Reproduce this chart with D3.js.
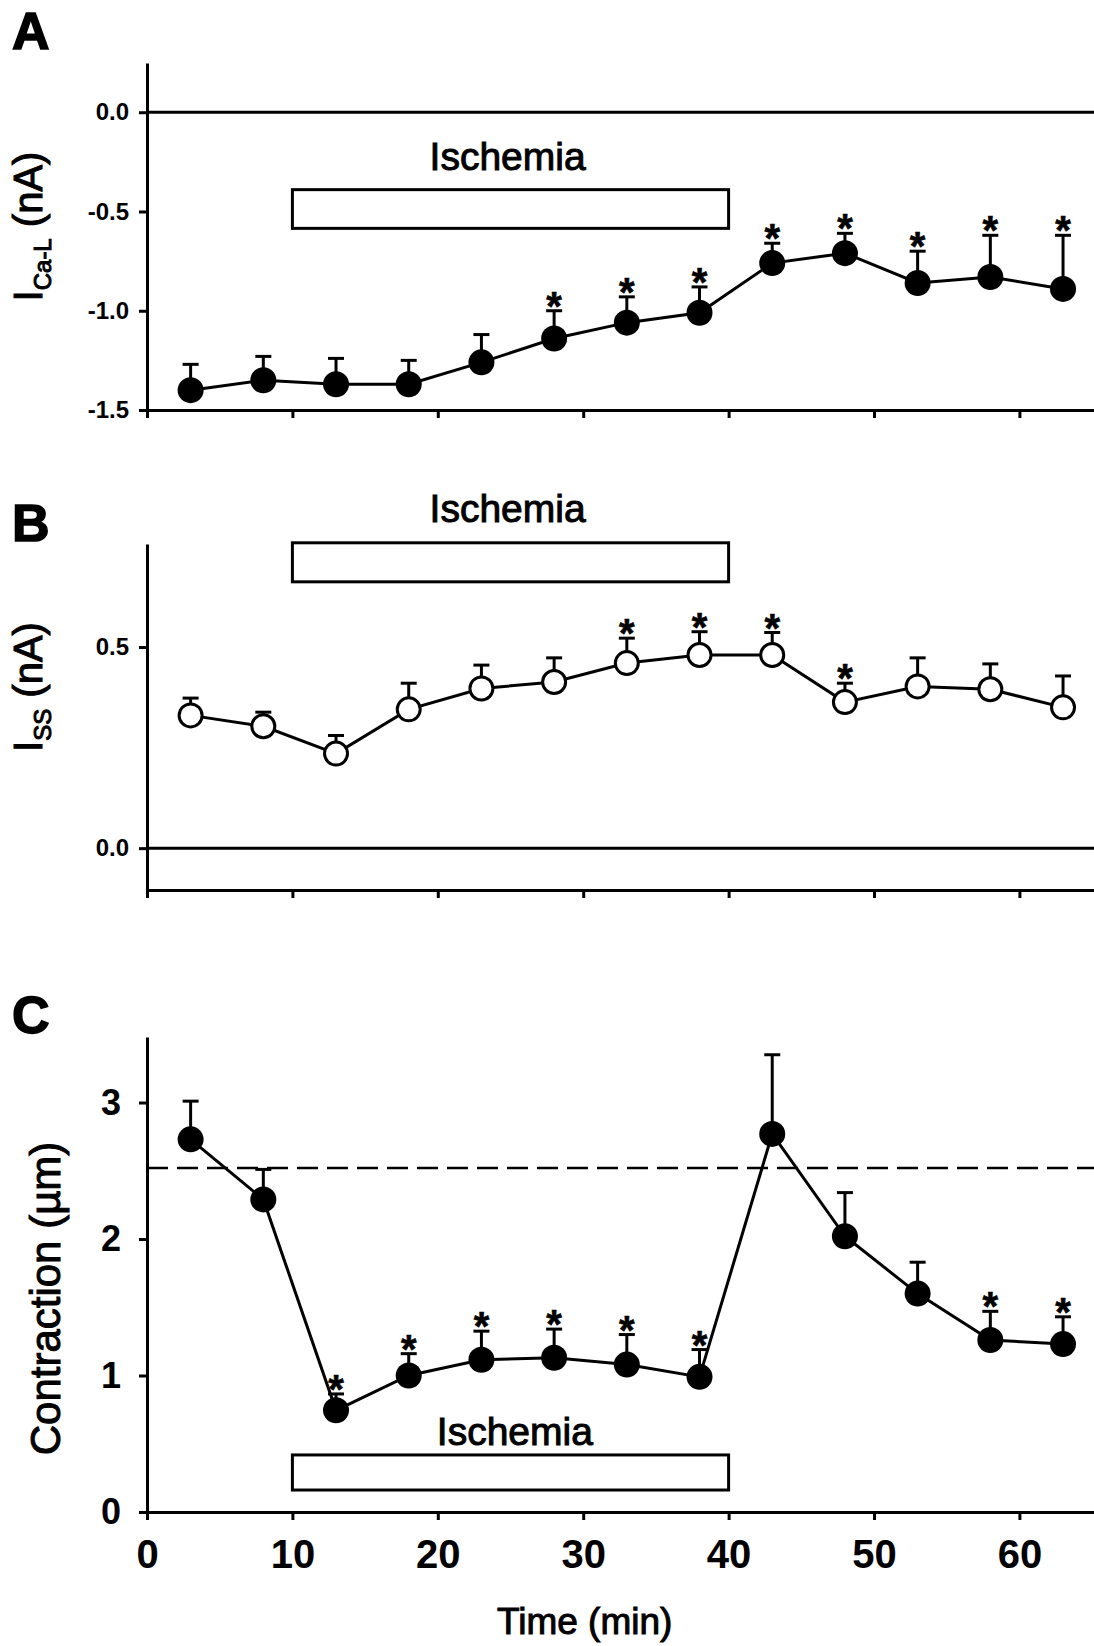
<!DOCTYPE html>
<html>
<head>
<meta charset="utf-8">
<script src="https://cdn.jsdelivr.net/npm/d3@7"></script>
<style>
body { margin: 0; background: #fff; }
svg { display: block; }
text { font-family: "Liberation Sans", Arial, sans-serif; fill: #000; }
.heavy { stroke: #000; stroke-width: 1; }
</style>
</head>
<body>
<svg width="1094" height="1646"></svg>
<script>
var times = [3, 8, 13, 18, 23, 28, 33, 38, 43, 48, 53, 58, 63];
var xTicks = [0, 10, 20, 30, 40, 50, 60];
var ischemia = [10, 40];

// A: I Ca-L
var icaMean = [-1.40, -1.35, -1.37, -1.37, -1.26, -1.14, -1.06, -1.01, -0.76, -0.71, -0.86, -0.83, -0.89];
var icaSem = [0.13, 0.12, 0.13, 0.12, 0.14, 0.14, 0.13, 0.13, 0.10, 0.10, 0.16, 0.21, 0.27];
var icaStar = [0, 0, 0, 0, 0, 1, 1, 1, 1, 1, 1, 1, 1];
var icaTicks = [-1.5, -1.0, -0.5, 0.0];

// B: I ss
var issMean = [0.33, 0.303, 0.235, 0.345, 0.397, 0.413, 0.46, 0.48, 0.48, 0.363, 0.402, 0.395, 0.35];
var issSem = [0.043, 0.035, 0.045, 0.065, 0.058, 0.06, 0.062, 0.058, 0.056, 0.047, 0.071, 0.063, 0.078];
var issStar = [0, 0, 0, 0, 0, 0, 1, 1, 1, 1, 0, 0, 0];
var issTicks = [0.0, 0.5];

// C: contraction
var conMean = [2.73, 2.29, 0.745, 1.00, 1.115, 1.13, 1.08, 0.99, 2.77, 2.02, 1.60, 1.26, 1.23];
var conSem = [0.28, 0.22, 0.12, 0.16, 0.21, 0.21, 0.22, 0.20, 0.58, 0.32, 0.23, 0.21, 0.20];
var conStar = [0, 0, 1, 1, 1, 1, 1, 1, 0, 0, 0, 1, 1];
var conTicks = [0, 1, 2, 3];
var conBaseline = 2.52;

var svg = d3.select("svg");
var W = 1094;
var x = d3.scaleLinear().domain([0, 65.13]).range([147, W]);

function drawPanel(p) {
  var y = d3.scaleLinear().domain(p.yDomain).range(p.yRange);
  var g = svg.append("g");

  // x axis
  var xAxis = d3.axisBottom(x).tickValues(xTicks).tickSize(8).tickSizeOuter(0).tickPadding(20);
  if (!p.xLabels) xAxis.tickFormat("");
  var gx = g.append("g")
    .attr("transform", "translate(0," + p.yRange[0] + ")")
    .call(xAxis);
  gx.selectAll("path, line").attr("stroke-width", 3);
  gx.selectAll("text").attr("font-size", 40).attr("font-weight", "bold");

  // y axis
  var yAxis = d3.axisLeft(y).tickValues(p.ticks).tickSize(8).tickSizeOuter(0)
    .tickPadding(p.tickPad).tickFormat(p.fmt);
  var gy = g.append("g")
    .attr("transform", "translate(" + x(0) + ",0)")
    .call(yAxis);
  gy.selectAll("path, line").attr("stroke-width", 3);
  gy.selectAll("text").attr("font-size", p.tickFont).attr("font-weight", "bold");

  // zero line or baseline
  if (p.zeroLine) {
    g.append("line")
      .attr("x1", x(0)).attr("x2", W)
      .attr("y1", y(0)).attr("y2", y(0))
      .attr("stroke", "#000").attr("stroke-width", 3);
  }
  if (p.dashed != null) {
    g.append("line")
      .attr("x1", x(0)).attr("x2", W)
      .attr("y1", y(p.dashed)).attr("y2", y(p.dashed))
      .attr("stroke", "#000").attr("stroke-width", 2.5)
      .attr("stroke-dasharray", "21,9");
  }

  // ischemia bar and label
  g.append("rect")
    .attr("x", x(ischemia[0])).attr("width", x(ischemia[1]) - x(ischemia[0]))
    .attr("y", y(p.box[0])).attr("height", y(p.box[1]) - y(p.box[0]))
    .attr("fill", "#fff").attr("stroke", "#000").attr("stroke-width", 3);
  g.append("text").attr("class", "heavy")
    .attr("x", x(p.labelX)).attr("y", y(p.labelY))
    .attr("text-anchor", "middle").attr("font-size", 39)
    .text("Ischemia");

  var data = times.map(function(t, i) {
    return {t: t, m: p.mean[i], s: p.sem[i], star: p.star[i]};
  });

  // error bars (upward only)
  var eb = g.append("g").attr("stroke", "#000").attr("stroke-width", 3);
  eb.selectAll(".v").data(data).enter().append("line")
    .attr("x1", function(d) { return x(d.t); })
    .attr("x2", function(d) { return x(d.t); })
    .attr("y1", function(d) { return y(d.m); })
    .attr("y2", function(d) { return y(d.m + d.s); });
  eb.selectAll(".c").data(data).enter().append("line")
    .attr("x1", function(d) { return x(d.t) - 8; })
    .attr("x2", function(d) { return x(d.t) + 8; })
    .attr("y1", function(d) { return y(d.m + d.s); })
    .attr("y2", function(d) { return y(d.m + d.s); });

  // connecting line
  var line = d3.line()
    .x(function(d) { return x(d.t); })
    .y(function(d) { return y(d.m); });
  g.append("path").datum(data)
    .attr("d", line).attr("fill", "none")
    .attr("stroke", "#000").attr("stroke-width", 3);

  // markers
  g.selectAll("circle").data(data).enter().append("circle")
    .attr("cx", function(d) { return x(d.t); })
    .attr("cy", function(d) { return y(d.m); })
    .attr("r", p.open ? 11.5 : 13)
    .attr("fill", p.open ? "#fff" : "#000")
    .attr("stroke", "#000").attr("stroke-width", p.open ? 3 : 0);

  // significance stars
  g.selectAll(".star").data(data.filter(function(d) { return d.star; })).enter()
    .append("text")
    .attr("x", function(d) { return x(d.t); })
    .attr("y", function(d) { return y(d.m + d.s) + 9; })
    .attr("text-anchor", "middle")
    .attr("font-size", 40).attr("font-weight", "bold")
    .attr("stroke", "#000").attr("stroke-width", 0.6)
    .text("*");

  // panel letter
  svg.append("text")
    .attr("x", 12).attr("y", p.letterY)
    .attr("font-size", 52).attr("font-weight", "bold")
    .attr("stroke", "#000").attr("stroke-width", 1.5)
    .text(p.letter);

  // y title
  var cy = (p.yRange[0] + p.yRange[1]) / 2 + p.titleShift;
  var tt = svg.append("text").attr("class", "heavy")
    .attr("transform", "translate(" + p.titleX + "," + cy + ") rotate(-90)")
    .attr("text-anchor", "middle")
    .attr("font-size", p.titleFont);
  if (p.sub) {
    tt.append("tspan").text("I");
    tt.append("tspan").attr("dy", 9).attr("font-size", p.titleFont * 0.6).text(p.sub);
    tt.append("tspan").attr("dy", -9).text(" (nA)");
  } else {
    tt.text(p.title);
  }
}

function fmt1(d) { return d.toFixed(1); }

drawPanel({
  letter: "A", letterY: 49,
  yDomain: [-1.5, 0.248], yRange: [410, 63],
  ticks: icaTicks, fmt: fmt1, tickFont: 24, tickPad: 10,
  mean: icaMean, sem: icaSem, star: icaStar, open: false,
  zeroLine: true, box: [-0.39, -0.585], labelX: 24.8, labelY: -0.29,
  sub: "Ca-L", titleX: 42, titleFont: 40, titleShift: -10
});

drawPanel({
  letter: "B", letterY: 541,
  yDomain: [-0.104, 0.756], yRange: [890, 544],
  ticks: issTicks, fmt: fmt1, tickFont: 24, tickPad: 10,
  mean: issMean, sem: issSem, star: issStar, open: true,
  zeroLine: true, box: [0.759, 0.662], labelX: 24.8, labelY: 0.811,
  sub: "SS", titleX: 42, titleFont: 40, titleShift: -30
});

drawPanel({
  letter: "C", letterY: 1033,
  yDomain: [0, 3.48], yRange: [1512, 1037],
  ticks: conTicks, fmt: d3.format("d"), tickFont: 36, tickPad: 18,
  mean: conMean, sem: conSem, star: conStar, open: false,
  dashed: conBaseline, xLabels: true,
  box: [0.418, 0.161], labelX: 25.3, labelY: 0.49,
  title: "Contraction (\u00b5m)", titleX: 60, titleFont: 42, titleShift: 24
});

// x title
svg.append("text").attr("class", "heavy")
  .attr("x", x(30.1)).attr("y", 1634)
  .attr("text-anchor", "middle").attr("font-size", 37)
  .text("Time (min)");
</script>
</body>
</html>
